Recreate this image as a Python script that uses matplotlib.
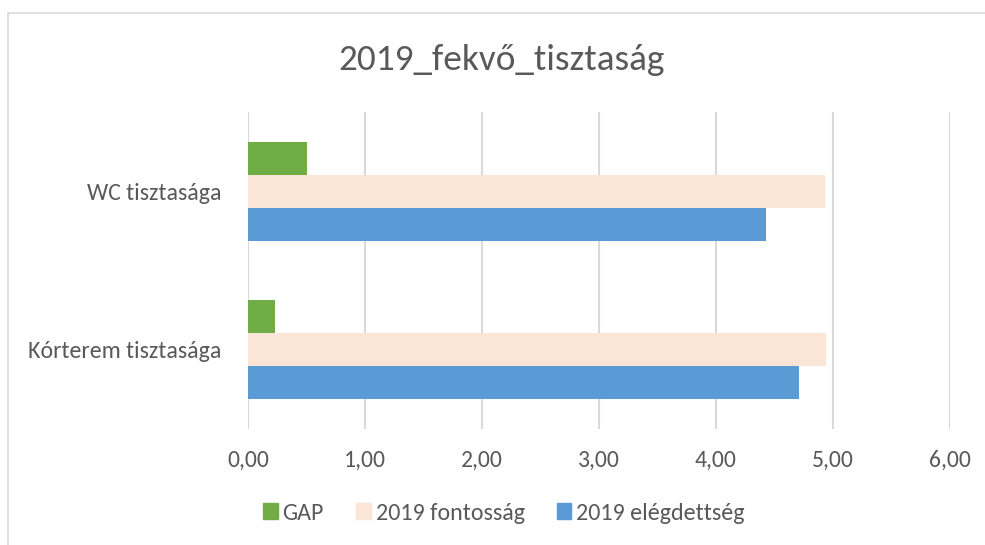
import matplotlib
matplotlib.use("Agg")
import matplotlib.pyplot as plt
import numpy as np
from matplotlib.patches import Rectangle, Patch

categories = ["Kórterem tisztasága", "WC tisztasága"]
elegedettseg = [4.71, 4.43]
fontossag = [4.94, 4.93]
gap = [0.23, 0.50]
xticks = [0, 1, 2, 3, 4, 5, 6]
xticklabels = ["0,00", "1,00", "2,00", "3,00", "4,00", "5,00", "6,00"]
title = "2019_fekvő_tisztaság"

plt.rcParams['font.family'] = ['Carlito', 'Lato', 'DejaVu Sans']
txt = "#595959"
c_blue = "#5B9BD5"
c_peach = "#FBE5D6"
c_green = "#70AD47"
grid_c = "#D9D9D9"
fs = 17

fig = plt.figure(figsize=(9.85, 5.45), dpi=100)
fig.patches.append(Rectangle((8/985, -0.01), 1.1, 1 - 13/545 + 0.01, transform=fig.transFigure,
                             fill=False, edgecolor=grid_c, linewidth=1.2))
ax = fig.add_axes([248/985, 116/545, 702/985, 317/545])

y = np.arange(len(categories))
h = 0.208
ax.barh(y - h, elegedettseg, height=h, color=c_blue, label="2019 elégdettség", zorder=3)
ax.barh(y, fontossag, height=h, color=c_peach, label="2019 fontosság", zorder=3)
ax.barh(y + h, gap, height=h, color=c_green, label="GAP", zorder=3)

ax.set_xlim(0, 6)
ax.set_ylim(-0.5, 1.5)
ax.set_xticks(xticks)
ax.set_xticklabels(xticklabels, color=txt, fontsize=fs)
ax.set_yticks(y)
ax.set_yticklabels(categories, color=txt, fontsize=17.2)
ax.tick_params(length=0)
ax.tick_params(axis='x', pad=15)
ax.tick_params(axis='y', pad=19)
ax.grid(axis='x', color=grid_c, linewidth=1.5, zorder=0)
for s in ax.spines.values():
    s.set_visible(False)

fig.text(502/985, 1 - 60/545, title, ha='center', va='center', fontsize=26.8, color=txt)

handles = [Patch(color=c_green), Patch(color=c_peach), Patch(color=c_blue)]
labels = ["GAP", "2019 fontosság", "2019 elégdettség"]
fig.legend(handles, labels, loc='center', bbox_to_anchor=(504/985, 1 - 513/545), ncol=3,
           frameon=False, fontsize=17.3, labelcolor=txt, handlelength=0.6, handleheight=0.6,
           handletextpad=0.2, columnspacing=1.35)

fig.savefig("out.png", dpi=100)
